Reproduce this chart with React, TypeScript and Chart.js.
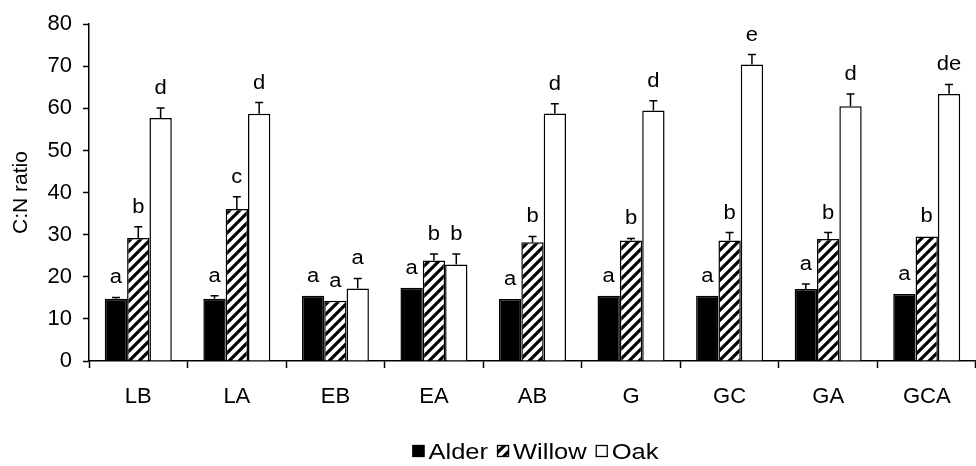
import React, { useEffect, useRef } from 'react';
import { Chart, registerables } from 'chart.js';

Chart.register(...registerables);

// ---------- data ----------
const categories = ['LB', 'LA', 'EB', 'EA', 'AB', 'G', 'GC', 'GA', 'GCA'];
const seriesNames = ['Alder', 'Willow', 'Oak'];

const alderValues = [14.8, 14.8, 15.5, 17.4, 14.7, 15.5, 15.5, 17.1, 15.9];
const alderErrors = [0.3, 0.7, 0, 0, 0, 0, 0, 1.2, 0];
const alderLetters = ['a', 'a', 'a', 'a', 'a', 'a', 'a', 'a', 'a'];

const willowValues = [29.2, 36.1, 14.3, 23.9, 28.2, 28.6, 28.6, 29.0, 29.6];
const willowErrors = [2.7, 2.9, 0, 1.5, 1.4, 0.5, 1.9, 1.5, 0];
const willowLetters = ['b', 'c', 'a', 'b', 'b', 'b', 'b', 'b', 'b'];

const oakValues = [57.7, 58.7, 17.2, 22.9, 58.8, 59.5, 70.4, 60.5, 63.4];
const oakErrors = [2.4, 2.7, 2.4, 2.5, 2.3, 2.3, 2.4, 2.9, 2.3];
const oakLetters = ['d', 'd', 'a', 'b', 'd', 'd', 'e', 'd', 'de'];

const yTickValues = [0, 10, 20, 30, 40, 50, 60, 70, 80];
const yTitle = 'C:N ratio';

const errorsBySeries = [alderErrors, willowErrors, oakErrors];
const lettersBySeries = [alderLetters, willowLetters, oakLetters];

const FONT = "'Liberation Sans', Arial, sans-serif";

function makeHatch(ctx: CanvasRenderingContext2D): CanvasPattern {
  const c = document.createElement('canvas');
  c.width = 10;
  c.height = 10;
  const g = c.getContext('2d') as CanvasRenderingContext2D;
  g.fillStyle = '#fff';
  g.fillRect(0, 0, 10, 10);
  g.strokeStyle = '#000';
  g.lineWidth = 3.2;
  g.beginPath();
  g.moveTo(-5, 5);
  g.lineTo(5, -5);
  g.moveTo(-1, 11);
  g.lineTo(11, -1);
  g.moveTo(5, 15);
  g.lineTo(15, 5);
  g.stroke();
  return ctx.createPattern(c, 'repeat') as CanvasPattern;
}

const annotationPlugin = {
  id: 'errorsAndLetters',
  afterDatasetsDraw(chart: any) {
    const ctx: CanvasRenderingContext2D = chart.ctx;
    const yScale = chart.scales.y;
    ctx.save();
    chart.data.datasets.forEach((ds: any, i: number) => {
      const meta = chart.getDatasetMeta(i);
      meta.data.forEach((el: any, j: number) => {
        const v = ds.data[j] as number;
        const e = errorsBySeries[i][j];
        const top = yScale.getPixelForValue(v + e);
        if (e > 0) {
          ctx.strokeStyle = '#000';
          ctx.lineWidth = 1.5;
          ctx.beginPath();
          ctx.moveTo(el.x, el.y);
          ctx.lineTo(el.x, top);
          ctx.moveTo(el.x - 4, top);
          ctx.lineTo(el.x + 4, top);
          ctx.stroke();
        }
        ctx.save();
        ctx.translate(el.x, top - 14);
        ctx.scale(1.1, 1);
        ctx.fillStyle = '#000';
        ctx.font = `20px ${FONT}`;
        ctx.textAlign = 'center';
        ctx.textBaseline = 'alphabetic';
        ctx.fillText(lettersBySeries[i][j], 0, 0);
        ctx.restore();
      });
    });
    ctx.restore();
  },
};

const legendPlugin = {
  id: 'customLegend',
  afterDraw(chart: any) {
    const ctx: CanvasRenderingContext2D = chart.ctx;
    const datasets = chart.data.datasets;
    const box = 12;
    const gapBoxText = 4;
    const gapItems = 9;
    const sx = 1.16;
    ctx.save();
    ctx.font = `22px ${FONT}`;
    const widths = datasets.map((d: any) => ctx.measureText(d.label).width * sx);
    let total = 0;
    widths.forEach((w: number, i: number) => {
      total += box + gapBoxText + w + (i < widths.length - 1 ? gapItems : 0);
    });
    const cx = (chart.chartArea.left + chart.chartArea.right) / 2 + 3;
    let x = cx - total / 2;
    const baseline = 459;
    datasets.forEach((d: any, i: number) => {
      const by = baseline - 14;
      ctx.fillStyle = d.backgroundColor;
      ctx.fillRect(x, by, box, box);
      ctx.strokeStyle = '#000';
      ctx.lineWidth = 1.3;
      ctx.strokeRect(x + 0.5, by + 0.5, box - 1, box - 1);
      x += box + gapBoxText;
      ctx.save();
      ctx.translate(x, baseline);
      ctx.scale(sx, 1);
      ctx.fillStyle = '#000';
      ctx.textAlign = 'left';
      ctx.textBaseline = 'alphabetic';
      ctx.fillText(d.label, 0, 0);
      ctx.restore();
      x += widths[i] + gapItems;
    });
    ctx.restore();
  },
};

export default function App() {
  const canvasRef = useRef<HTMLCanvasElement | null>(null);

  useEffect(() => {
    const canvas = canvasRef.current;
    if (!canvas) return;
    const ctx = canvas.getContext('2d') as CanvasRenderingContext2D;
    const hatch = makeHatch(ctx);

    const chart = new Chart(canvas, {
      type: 'bar',
      data: {
        labels: categories,
        datasets: [
          {
            label: seriesNames[0],
            data: alderValues,
            backgroundColor: '#000',
            borderColor: '#000',
            borderWidth: 1.5,
          },
          {
            label: seriesNames[1],
            data: willowValues,
            backgroundColor: hatch as any,
            borderColor: '#000',
            borderWidth: 1.5,
          },
          {
            label: seriesNames[2],
            data: oakValues,
            backgroundColor: '#fff',
            borderColor: '#000',
            borderWidth: 1.5,
          },
        ],
      },
      options: {
        responsive: false,
        animation: false,
        devicePixelRatio: 1,
        layout: { padding: { top: 21, right: -6, bottom: 0, left: 0 } },
        datasets: {
          bar: { categoryPercentage: 0.68, barPercentage: 1.0 },
        } as any,
        plugins: {
          legend: { display: false },
          tooltip: { enabled: false },
          title: { display: false },
        },
        scales: {
          x: {
            type: 'category',
            offset: true,
            grid: {
              offset: true,
              drawOnChartArea: false,
              drawTicks: true,
              tickLength: 7,
              tickColor: '#000',
              tickWidth: 1.5,
            },
            border: { display: true, color: '#000', width: 1.5 },
            ticks: {
              color: '#000',
              font: { family: FONT, size: 22 },
              padding: 16,
              maxRotation: 0,
              autoSkip: false,
            },
            afterFit: (scale: any) => {
              scale.height = 105;
            },
          },
          y: {
            min: 0,
            max: 80,
            afterBuildTicks: (scale: any) => {
              scale.ticks = yTickValues.map((v) => ({ value: v }));
            },
            grid: {
              drawOnChartArea: false,
              drawTicks: true,
              tickLength: 6,
              tickColor: '#000',
              tickWidth: 1.5,
            },
            border: { display: true, color: '#000', width: 1.5 },
            ticks: {
              color: '#000',
              font: { family: FONT, size: 22 },
              padding: 11,
            },
            title: {
              display: true,
              text: yTitle,
              color: '#000',
              font: { family: FONT, size: 21 },
              padding: { top: 9, bottom: 0 },
            },
            afterFit: (scale: any) => {
              scale.width = 89;
            },
          },
        },
      },
      plugins: [annotationPlugin, legendPlugin],
    });

    return () => {
      chart.destroy();
    };
  }, []);

  return (
    <div style={{ position: 'absolute', left: 0, top: 0, width: 976, height: 466, background: '#fff' }}>
      <canvas ref={canvasRef} width={976} height={466} style={{ display: 'block' }} />
    </div>
  );
}
